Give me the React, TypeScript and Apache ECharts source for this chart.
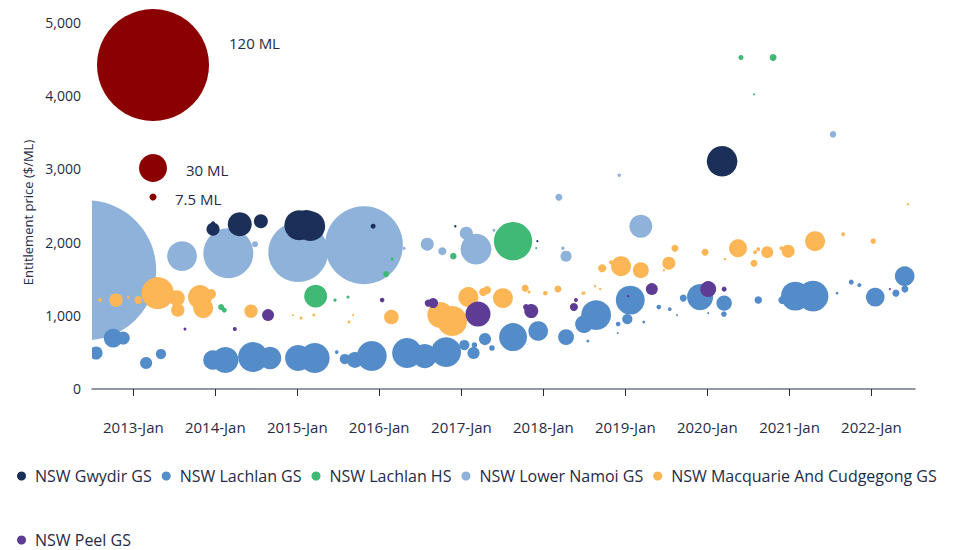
import React, { useEffect, useRef } from 'react';
import * as echarts from 'echarts';

// ---------- data: [date, entitlement price ($/ML), volume (ML)] ----------
const gwydirGS: [string, number, number][] = [
  ['2013-12-22', 2177, 14], ['2013-12-22', 2259, 4.3], ['2014-04-20', 2245, 25.7],
  ['2014-07-23', 2286, 15], ['2015-01-10', 2231, 32], ['2015-02-11', 2259, 28],
  ['2015-02-28', 2218, 32], ['2015-12-05', 2218, 5.4], ['2016-12-05', 2218, 2.6],
  ['2017-12-05', 2014, 2.1], ['2020-03-07', 3102, 32.8],
];

const lachlanGS: [string, number, number][] = [
  ['2012-07-19', 490, 14], ['2012-10-03', 694, 20], ['2012-11-17', 694, 14],
  ['2013-02-27', 354, 13], ['2013-05-04', 476, 11], ['2013-12-22', 395, 21],
  ['2014-02-15', 395, 28], ['2014-06-18', 435, 32], ['2014-09-02', 422, 24],
  ['2015-01-05', 422, 28], ['2015-03-20', 422, 32], ['2015-06-26', 503, 4],
  ['2015-08-01', 408, 11], ['2015-09-15', 395, 17], ['2015-11-29', 449, 32],
  ['2016-05-04', 490, 32], ['2016-07-22', 449, 26], ['2016-10-25', 503, 32],
  ['2017-01-14', 599, 11], ['2017-02-24', 490, 13], ['2017-02-28', 599, 6],
  ['2017-04-16', 680, 13], ['2017-05-17', 558, 6], ['2017-08-19', 707, 30],
  ['2017-12-09', 789, 21], ['2018-04-12', 707, 17], ['2018-07-18', 653, 3],
  ['2018-07-01', 884, 19], ['2018-08-24', 1007, 32], ['2018-11-30', 884, 5],
  ['2018-11-28', 762, 2], ['2019-01-10', 952, 11], ['2019-01-23', 1211, 31],
  ['2019-03-24', 912, 3], ['2019-05-30', 1116, 5], ['2019-07-18', 1088, 4],
  ['2019-08-19', 1007, 2], ['2019-09-16', 1238, 7.5], ['2019-11-30', 1252, 28],
  ['2020-01-05', 1034, 2], ['2020-03-16', 1170, 16.5], ['2020-03-15', 1020, 6],
  ['2020-08-15', 1211, 8], ['2020-11-30', 1211, 8.5], ['2021-01-27', 1265, 31],
  ['2021-04-16', 1265, 33], ['2021-08-01', 1306, 3], ['2021-10-03', 1456, 5.4],
  ['2021-11-08', 1415, 4.3], ['2022-01-18', 1252, 20], ['2022-04-20', 1306, 7.5],
  ['2022-05-30', 1361, 7.5], ['2022-05-29', 1537, 21],
];

const lachlanHS: [string, number, number][] = [
  ['2014-01-27', 1116, 6.4], ['2014-02-10', 1075, 5.4], ['2015-03-24', 1265, 24.6],
  ['2015-06-18', 1211, 3.6], ['2015-08-15', 1252, 3.2], ['2016-02-01', 1565, 6.4],
  ['2016-02-28', 1769, 3.6], ['2016-11-26', 1810, 7], ['2017-08-19', 2014, 41],
  ['2017-11-30', 1918, 2.1], ['2020-05-30', 4517, 5.4], ['2020-07-27', 4014, 2.1],
  ['2020-10-20', 4517, 7.5],
];

const lowerNamoiGS: [string, number, number][] = [
  ['2012-06-05', 1619, 150], ['2013-08-06', 1810, 32], ['2014-02-28', 1850, 53.5],
  ['2014-06-27', 1973, 6.4], ['2015-01-05', 1864, 64], ['2015-10-25', 1959, 83.5],
  ['2016-04-21', 1918, 3.2], ['2016-08-02', 1973, 14], ['2016-10-08', 1878, 8.6],
  ['2017-01-23', 2122, 14], ['2017-03-07', 1905, 33], ['2017-05-26', 2163, 3.2],
  ['2018-03-11', 2612, 7.5], ['2018-03-29', 1918, 3.6], ['2018-04-12', 1810, 11.8],
  ['2018-12-05', 2912, 3.6], ['2019-03-11', 2218, 24.6], ['2021-07-14', 3469, 7],
];

const macquarieGS: [string, number, number][] = [
  ['2012-08-06', 1211, 4.3], ['2012-10-16', 1211, 14.3], ['2012-12-09', 1252, 3.2],
  ['2013-01-23', 1211, 8.6], ['2013-04-20', 1306, 34.3], ['2013-07-14', 1238, 17.1],
  ['2013-07-18', 1075, 14.3], ['2013-10-25', 1252, 25.7], ['2013-11-08', 1102, 21.4],
  ['2013-12-13', 1293, 10.7], ['2014-06-09', 1061, 14.3], ['2014-12-13', 1007, 2.1],
  ['2015-01-18', 966, 3.2], ['2015-03-16', 1007, 3.2], ['2015-08-19', 912, 3.2],
  ['2015-09-07', 1007, 2.1], ['2016-02-24', 980, 15.6], ['2016-09-29', 1007, 27.8],
  ['2016-11-21', 925, 32.1], ['2017-02-01', 1252, 21.4], ['2017-04-08', 1320, 8.6],
  ['2017-04-25', 1347, 8.6], ['2017-07-05', 1238, 21.4], ['2017-10-12', 1374, 7.5],
  ['2017-10-29', 1320, 3.2], ['2018-01-10', 1306, 4.9], ['2018-03-07', 1361, 7.5],
  ['2018-06-26', 1306, 3.2], ['2018-07-01', 1306, 3.2], ['2018-08-19', 1401, 2.6],
  ['2018-09-11', 1361, 2.6], ['2018-09-20', 1646, 8.6], ['2018-10-29', 1728, 4.3],
  ['2018-12-13', 1673, 21.4], ['2019-03-11', 1619, 17.1], ['2019-06-22', 1619, 2.6],
  ['2019-07-14', 1714, 13.9], ['2019-08-10', 1918, 7.5], ['2019-12-22', 1864, 7.5],
  ['2020-03-20', 1769, 2.6], ['2020-05-17', 1918, 19.3], ['2020-07-27', 1714, 7.5],
  ['2020-08-01', 1864, 4.3], ['2020-08-15', 1905, 4.3], ['2020-09-24', 1864, 12.8],
  ['2020-11-26', 1918, 4.3], ['2020-12-26', 1878, 13.9], ['2021-04-25', 2014, 21.4],
  ['2021-08-28', 2109, 4.3], ['2022-01-09', 2014, 5.8], ['2022-06-13', 2517, 2.6],
];

const peelGS: [string, number, number][] = [
  ['2013-08-19', 816, 3.2], ['2014-03-29', 816, 4.3], ['2014-08-24', 1007, 12.8],
  ['2016-01-14', 1211, 4.9], ['2016-08-06', 1170, 7.5], ['2016-08-28', 1170, 10.7],
  ['2017-03-16', 1020, 26.8], ['2017-10-16', 1116, 6.4], ['2017-11-08', 1061, 15],
  ['2018-05-17', 1116, 8.6], ['2018-05-26', 1211, 4.3], ['2019-01-14', 1265, 2.6],
  ['2019-04-29', 1361, 12.8], ['2020-01-05', 1361, 17.1], ['2020-03-16', 1361, 5.4],
  ['2022-03-24', 1361, 2.1],
];

const X_MIN = '2012-07-01';
const X_MAX = '2022-07-14';
const X_TICKS = ['2013-01-01', '2014-01-01', '2015-01-01', '2016-01-01', '2017-01-01',
  '2018-01-01', '2019-01-01', '2020-01-01', '2021-01-01', '2022-01-01'];
const Y_MIN = -191;
const Y_MAX = 5000;
const Y_TICKS = [0, 1000, 2000, 3000, 4000, 5000];
const SIZE_LEGEND_ML = [120, 30, 7.5];

// ---------- styles ----------
const PX_PER_ML = 56 / 120;
const TEXT = '#1f2b47';
const FONT = "'Open Sans', 'Noto Sans', sans-serif";

const SERIES = [
  { name: 'NSW Lower Namoi GS', data: lowerNamoiGS, color: '#8fb2da' },
  { name: 'NSW Lachlan GS', data: lachlanGS, color: '#538cc9' },
  { name: 'NSW Lachlan HS', data: lachlanHS, color: '#40b977' },
  { name: 'NSW Gwydir GS', data: gwydirGS, color: '#1b3059' },
  { name: 'NSW Macquarie And Cudgegong GS', data: macquarieGS, color: '#fdb656' },
  { name: 'NSW Peel GS', data: peelGS, color: '#5e3b94' },
];
const LEGEND_ROW1 = ['NSW Gwydir GS', 'NSW Lachlan GS', 'NSW Lachlan HS', 'NSW Lower Namoi GS', 'NSW Macquarie And Cudgegong GS'];
const LEGEND_ROW2 = ['NSW Peel GS'];

const SIZE_LEGEND_POS = [
  { cx: 153, cy: 65, tx: 229, ty: 43 },
  { cx: 153, cy: 168, tx: 186, ty: 170 },
  { cx: 153, cy: 197, tx: 175, ty: 199 },
];

const ts = (d: string) => new Date(d + 'T00:00:00Z').getTime();

const renderItem = (params: any, api: any) => {
  const pt = api.coord([api.value(0), api.value(1)]);
  const r = api.value(2) * PX_PER_ML;
  return {
    type: 'circle',
    shape: { cx: pt[0], cy: pt[1], r },
    style: { fill: api.visual('color') },
  };
};

export default function App() {
  const ref = useRef<HTMLDivElement>(null);
  useEffect(() => {
    if (!ref.current) return;
    const chart = echarts.init(ref.current, undefined, { renderer: 'svg' });
    const legendCommon = {
      icon: 'circle',
      itemWidth: 9,
      itemHeight: 9,
      itemGap: 10,
      left: 17,
      padding: 0,
      textStyle: {
        fontSize: 16,
        lineHeight: 16,
        color: TEXT,
        fontFamily: FONT,
        padding: [0, 0, 0, 4],
      },
    };
    const option: any = {
      animation: false,
      backgroundColor: '#ffffff',
      textStyle: { fontFamily: FONT },
      grid: { left: 92, right: 40, top: 22, bottom: 147, containLabel: false },
      xAxis: {
        type: 'value',
        min: ts(X_MIN),
        max: ts(X_MAX),
        splitLine: { show: false },
        axisLine: { show: true, lineStyle: { color: '#6f7785', width: 1.5 } },
        axisTick: {
          show: true,
          length: 7,
          customValues: X_TICKS.map(ts),
          lineStyle: { color: '#2a2a2a', width: 1 },
        },
        axisLabel: {
          customValues: X_TICKS.map(ts),
          formatter: (v: number) => `${new Date(v).getUTCFullYear()}-Jan`,
          color: TEXT,
          fontSize: 15,
          fontFamily: FONT,
          margin: 16,
        },
      },
      yAxis: {
        type: 'value',
        min: Y_MIN,
        max: Y_MAX,
        name: 'Entitlement price ($/ML)',
        nameLocation: 'middle',
        nameGap: 57,
        nameTextStyle: { color: TEXT, fontSize: 13, fontFamily: FONT },
        splitLine: { show: false },
        axisLine: { show: false },
        axisTick: { show: false },
        axisLabel: {
          customValues: Y_TICKS,
          formatter: (v: number) => v.toLocaleString('en-US'),
          color: TEXT,
          fontSize: 14,
          fontFamily: FONT,
          margin: 11,
        },
      },
      legend: [
        { ...legendCommon, data: LEGEND_ROW1, top: 468 },
        { ...legendCommon, data: LEGEND_ROW2, top: 532 },
      ],
      series: SERIES.map((s) => ({
        type: 'custom',
        name: s.name,
        coordinateSystem: 'cartesian2d',
        renderItem,
        clip: true,
        encode: { x: 0, y: 1 },
        itemStyle: { color: s.color },
        data: s.data.map(([d, p, v]) => [ts(d), p, v]),
      })),
      graphic: [
        ...SIZE_LEGEND_ML.map((ml, i) => ({
          type: 'circle',
          z: 100,
          shape: { cx: SIZE_LEGEND_POS[i].cx, cy: SIZE_LEGEND_POS[i].cy, r: ml * PX_PER_ML },
          style: { fill: '#8b0000' },
        })),
        ...SIZE_LEGEND_ML.map((ml, i) => ({
          type: 'text',
          z: 100,
          x: SIZE_LEGEND_POS[i].tx,
          y: SIZE_LEGEND_POS[i].ty,
          style: {
            text: `${ml} ML`,
            fill: TEXT,
            font: `15px ${FONT}`,
            verticalAlign: 'middle',
            align: 'left',
          },
        })),
      ],
    };
    chart.setOption(option);
    return () => chart.dispose();
  }, []);
  return (
    <div
      ref={ref}
      style={{ position: 'absolute', left: 0, top: 0, width: 955, height: 550 }}
    />
  );
}
